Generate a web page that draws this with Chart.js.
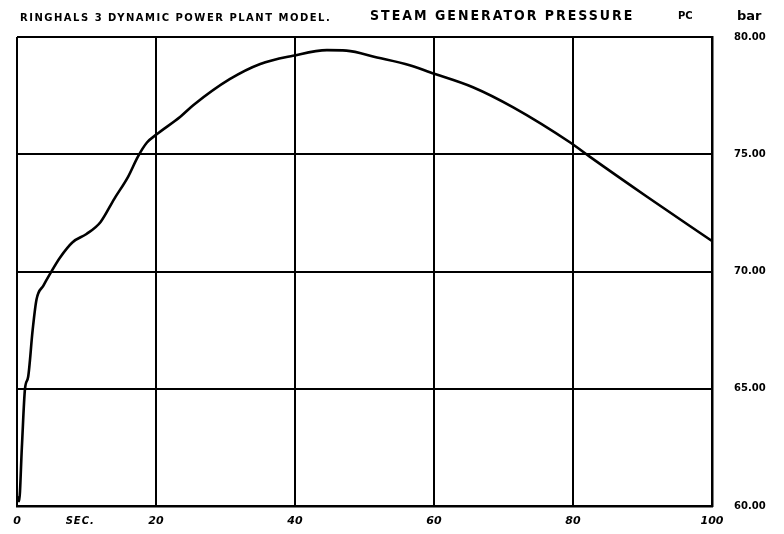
<!DOCTYPE html>
<html>
<head>
<meta charset="utf-8">
<script src="https://cdn.jsdelivr.net/npm/chart.js@4.4.0/dist/chart.umd.min.js"></script>
<style>
  html, body { margin: 0; padding: 0; background: #fff; }
  #wrap { width: 784px; height: 534px; }
</style>
</head>
<body>
<div id="wrap"><canvas id="chartPressure"></canvas></div>
<script>
// time in seconds, pressure in bar
const timeSec = [0, 0.3, 0.7, 1.15, 1.6, 2.25, 2.8, 3.8, 4.75, 6.2, 8, 10, 12, 14, 16, 17.4, 18.7, 20.1, 23.5, 25.4, 30.6, 35, 39.7, 44.6, 47.4, 51.8, 56.5, 59.4, 65.6, 71.4, 79.6, 82.4, 90.6, 100];
const pressure = [60.4, 60.2, 62.5, 65.0, 65.5, 67.5, 68.8, 69.4, 69.9, 70.6, 71.25, 71.6, 72.1, 73.1, 74.05, 74.9, 75.5, 75.85, 76.6, 77.1, 78.2, 78.85, 79.2, 79.44, 79.42, 79.13, 78.8, 78.5, 77.86, 77.0, 75.5, 74.9, 73.2, 71.3];
const xTicks = [0, 20, 40, 60, 80, 100];
const yTicks = [60, 65, 70, 75, 80];

const headerText = "RINGHALS 3 DYNAMIC POWER PLANT MODEL.";
const titleText = "STEAM GENERATOR PRESSURE";
const tagText = "PC";
const unitText = "bar";
const xUnitText = "SEC.";

const points = timeSec.map((t, i) => ({ x: t, y: pressure[i] }));

// header / unit texts drawn around the chart area
const labelsPlugin = {
  id: "labels",
  afterDraw(chart) {
    const ctx = chart.ctx;
    const area = chart.chartArea;
    const xs = chart.scales.x;
    ctx.save();
    ctx.fillStyle = "#000";
    ctx.textBaseline = "alphabetic";
    ctx.font = "bold 10px 'DejaVu Sans'";
    ctx.letterSpacing = "1.5px";
    ctx.fillText(headerText, area.left + 3, area.top - 16);
    ctx.font = "bold 14px 'DejaVu Sans Condensed', 'DejaVu Sans'";
    ctx.letterSpacing = "2px";
    ctx.fillText(titleText, area.left + 353, area.top - 17);
    ctx.letterSpacing = "0px";
    ctx.font = "bold 10px 'DejaVu Sans'";
    ctx.fillText(tagText, area.right - 34, area.top - 18);
    ctx.font = "bold 13px 'DejaVu Sans'";
    ctx.fillText(unitText, area.right + 25, area.top - 17);
    ctx.font = "bold italic 10px 'DejaVu Sans'";
    ctx.letterSpacing = "1px";
    ctx.textBaseline = "top";
    ctx.fillText(xUnitText, xs.getPixelForValue(7), area.bottom + 10);
    ctx.restore();
  },
};

const configPressure = {
  type: "line",
  data: {
    datasets: [
      {
        label: "Pressure",
        data: points,
        borderColor: "#000",
        borderWidth: 2.6,
        pointRadius: 0,
        tension: 0.4,
        cubicInterpolationMode: "monotone",
        fill: false,
      },
    ],
  },
  options: {
    responsive: false,
    animation: false,
    layout: { padding: { left: 17, top: 37, right: 0, bottom: 0 } },
    plugins: {
      legend: { display: false },
      tooltip: { enabled: false },
      title: { display: false },
    },
    scales: {
      x: {
        type: "linear",
        min: 0,
        max: 100,
        afterBuildTicks: (scale) => {
          scale.ticks = xTicks.map((v) => ({ value: v }));
        },
        afterFit: (scale) => {
          scale.height = 22;
        },
        grid: { color: "#000", lineWidth: 2, drawTicks: false },
        border: { color: "#000", width: 2.5 },
        ticks: {
          color: "#000",
          padding: 9,
          maxRotation: 0,
          font: { family: "'DejaVu Sans'", size: 11, weight: "bold", style: "italic" },
        },
      },
      y: {
        position: "right",
        min: 60,
        max: 80,
        afterBuildTicks: (scale) => {
          scale.ticks = yTicks.map((v) => ({ value: v }));
        },
        afterFit: (scale) => {
          scale.width = 72;
        },
        grid: { color: "#000", lineWidth: 2, drawTicks: false },
        border: { color: "#000", width: 2.5 },
        ticks: {
          color: "#000",
          padding: 22,
          callback: (v) => Number(v).toFixed(2),
          font: { family: "'DejaVu Sans'", size: 10, weight: "bold" },
        },
      },
    },
  },
  plugins: [labelsPlugin],
};

const canvas = document.getElementById("chartPressure");
canvas.width = 784;
canvas.height = 534;
var chartPressure = new Chart(canvas, configPressure);
</script>
</body>
</html>
